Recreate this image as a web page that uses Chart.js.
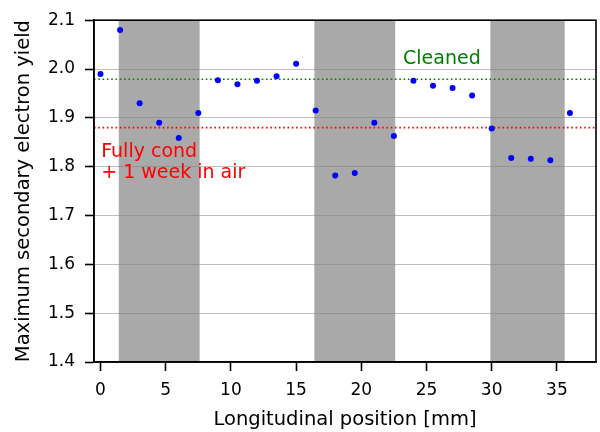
<!DOCTYPE html>
<html>
<head>
<meta charset="utf-8">
<script src="https://cdn.jsdelivr.net/npm/chart.js@4/dist/chart.umd.min.js"></script>
<style>
  html, body { margin:0; padding:0; background:#fff; }
  #wrap { width:600px; height:432px; }
</style>
</head>
<body>
<div id="wrap"><canvas id="c" width="600" height="432"></canvas></div>
<script>
// ── DATA ──────────────────────────────────────────────
const positions = [0, 1.5, 3, 4.5, 6, 7.5, 9, 10.5, 12, 13.5, 15, 16.5, 18, 19.5, 21, 22.5, 24, 25.5, 27, 28.5, 30, 31.5, 33, 34.5, 36];
const seyValues = [1.990, 2.080, 1.930, 1.890, 1.859, 1.910, 1.977, 1.969, 1.976, 1.985, 2.011, 1.915, 1.782, 1.787, 1.890, 1.863, 1.976, 1.966, 1.961, 1.946, 1.878, 1.818, 1.816, 1.813, 1.910];
const bandStarts = [1.4, 16.4, 29.9];
const bandEnds   = [7.6, 22.6, 35.6];
const cleanedLevel = 1.979;
const condLevel    = 1.880;
const xTicks = [0, 5, 10, 15, 20, 25, 30, 35];
const yTicks = [1.4, 1.5, 1.6, 1.7, 1.8, 1.9, 2.0, 2.1];
const xRange = [-0.5, 38];
const yRange = [1.4, 2.1];

const FONT = "'DejaVu Sans', 'Liberation Sans', sans-serif";

// ── PLUGINS ───────────────────────────────────────────
const bands = {
  id: 'bands',
  beforeDraw(chart) {
    const { ctx, chartArea: a, scales: { x } } = chart;
    ctx.save();
    ctx.fillStyle = '#a9a9a9';
    bandStarts.forEach((s, i) => {
      const x0 = x.getPixelForValue(s), x1 = x.getPixelForValue(bandEnds[i]);
      ctx.fillRect(x0, a.top, x1 - x0, a.bottom - a.top);
    });
    ctx.restore();
  },
};

const notes = {
  id: 'notes',
  afterDraw(chart) {
    const { ctx, chartArea: a, scales: { x, y } } = chart;
    ctx.save();
    ctx.font = `19px ${FONT}`;
    ctx.textBaseline = 'alphabetic';
    ctx.textAlign = 'left';
    ctx.fillStyle = '#008000';
    ctx.fillText('Cleaned', x.getPixelForValue(23.2), y.getPixelForValue(2.011));
    ctx.fillStyle = '#ff0000';
    ctx.fillText('Fully cond', x.getPixelForValue(0.05), y.getPixelForValue(1.819));
    ctx.fillText('+ 1 week in air', x.getPixelForValue(0.05), y.getPixelForValue(1.776));
    // frame (all four spines)
    ctx.strokeStyle = '#000';
    ctx.lineWidth = 1.6;
    ctx.strokeRect(a.left, a.top, a.right - a.left, a.bottom - a.top);
    ctx.restore();
  },
};

// ── CHART ─────────────────────────────────────────────
const flat = (lvl) => [{ x: xRange[0], y: lvl }, { x: xRange[1], y: lvl }];

new Chart(document.getElementById('c').getContext('2d'), {
  type: 'scatter',
  data: {
    datasets: [
      { data: positions.map((p, i) => ({ x: p, y: seyValues[i] })), backgroundColor: '#0000ff', borderWidth: 0, pointRadius: 3 },
      { type: 'line', data: flat(cleanedLevel), borderColor: '#008000', borderWidth: 1.6, borderDash: [1.6, 2.7], pointRadius: 0, fill: false },
      { type: 'line', data: flat(condLevel), borderColor: '#ff0000', borderWidth: 1.6, borderDash: [1.6, 2.7], pointRadius: 0, fill: false },
    ],
  },
  options: {
    responsive: false, animation: false, devicePixelRatio: 1,
    layout: { padding: { left: 0, right: 2, top: 17, bottom: 0 } },
    plugins: { legend: { display: false }, tooltip: { enabled: false } },
    scales: {
      x: {
        type: 'linear', min: xRange[0], max: xRange[1],
        afterBuildTicks: s => { s.ticks = xTicks.map(v => ({ value: v })); },
        afterFit: s => { s.height = 70; },
        ticks: { color: '#000', font: { family: FONT, size: 17 }, padding: 9, maxRotation: 0, callback: v => String(v) },
        grid: { drawOnChartArea: false, tickColor: '#000', tickLength: 9, tickWidth: 1.6 },
        border: { color: '#000', width: 1.6 },
        title: { display: true, text: 'Longitudinal position [mm]', color: '#000', font: { family: FONT, size: 19.5 }, padding: { top: 0, bottom: 0 } },
      },
      y: {
        min: yRange[0], max: yRange[1],
        afterBuildTicks: s => { s.ticks = yTicks.map(v => ({ value: v })); },
        afterFit: s => { s.width = 94; },
        ticks: { color: '#000', font: { family: FONT, size: 17 }, padding: 10, callback: v => v.toFixed(1) },
        grid: { color: 'rgba(128,128,128,0.5)', lineWidth: 1, tickColor: '#000', tickLength: 9, tickWidth: 1.6 },
        border: { color: '#000', width: 1.6 },
        title: { display: true, text: 'Maximum secondary electron yield', color: '#000', font: { family: FONT, size: 19.5 }, padding: { top: 12, bottom: 0 } },
      },
    },
  },
  plugins: [bands, notes],
});
</script>
</body>
</html>
